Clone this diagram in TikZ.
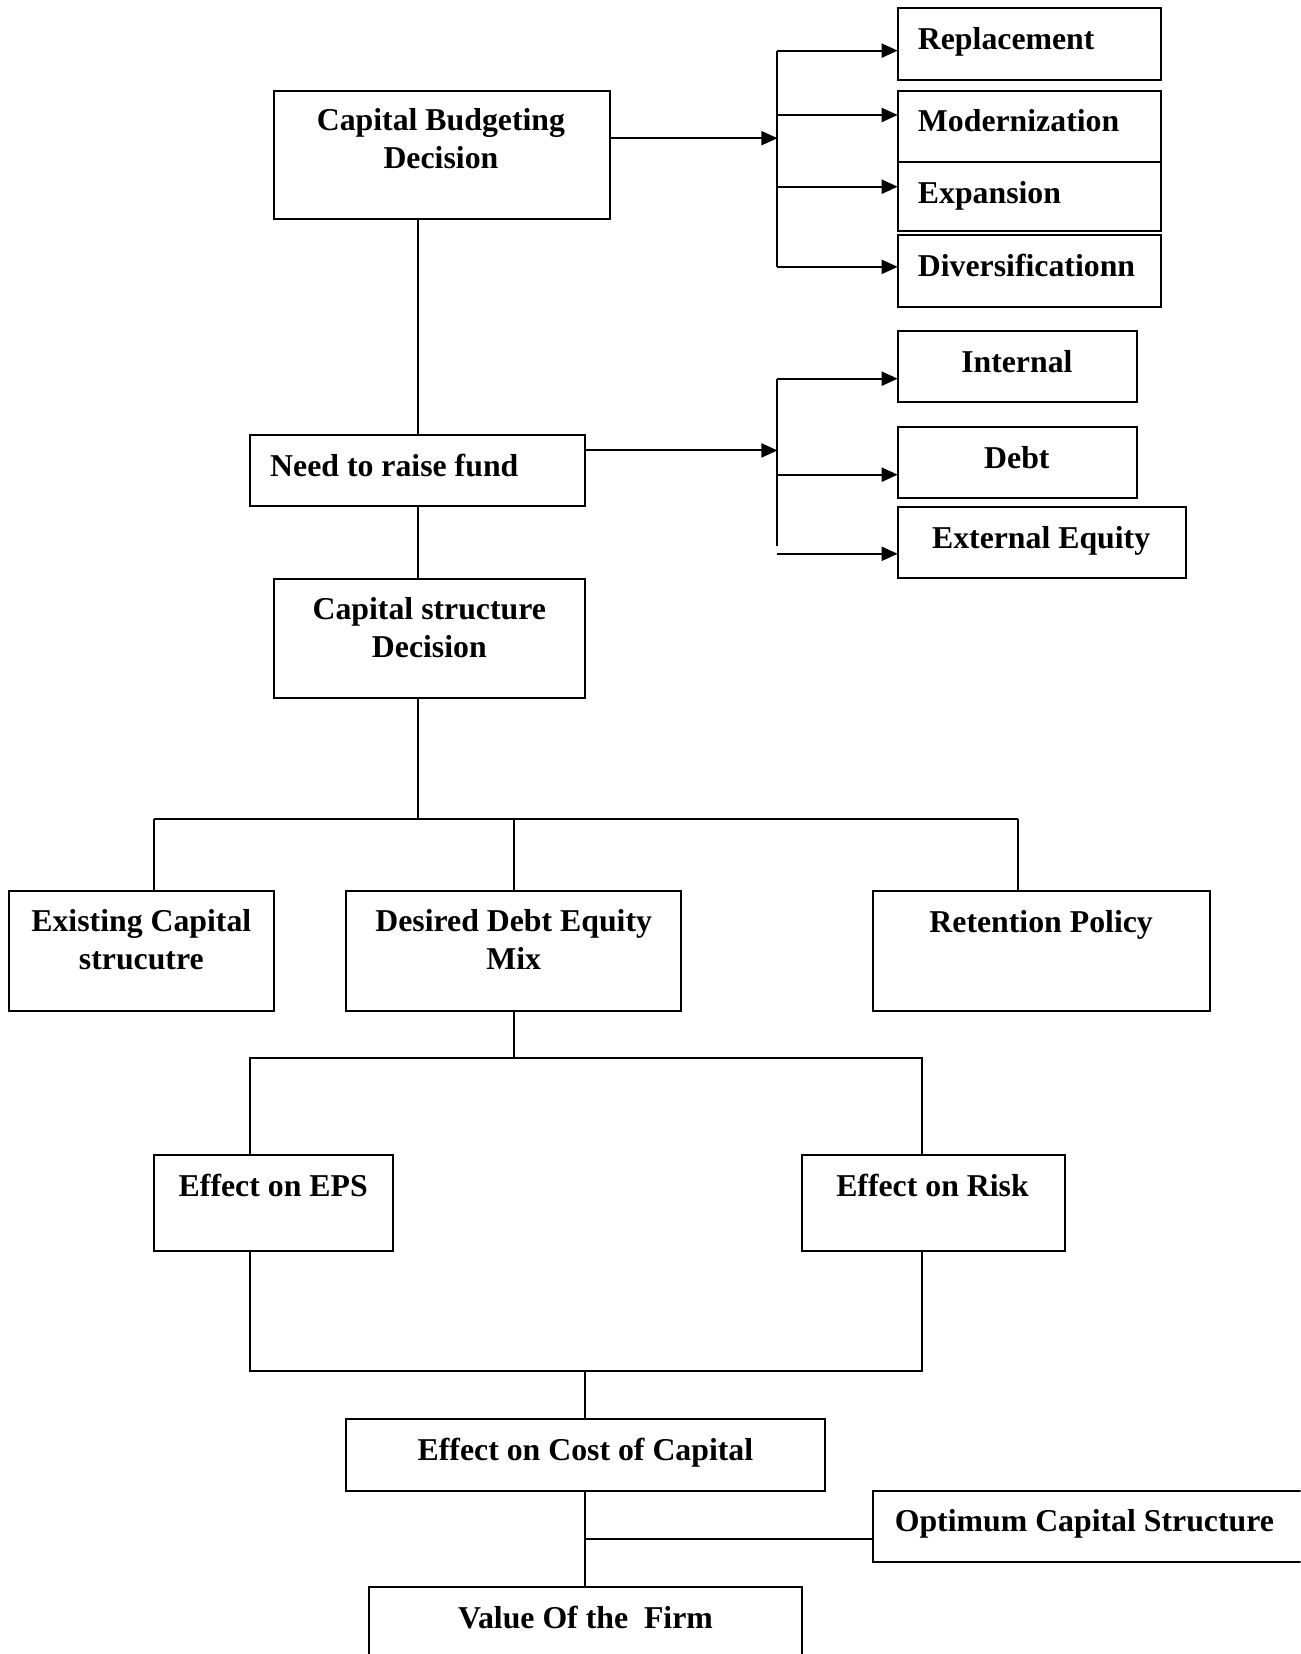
\documentclass[tikz,border=0pt]{standalone}
\usepackage{fontspec}
\setmainfont{Liberation Serif}
\usetikzlibrary{arrows.meta}
\newcommand\bx[5]{\node[box, minimum width={(#4-#2)*1.0552pt}, minimum height={(#5-#3)*1.0552pt}] (#1) at ({(#2+#4)/2},{(#3+#5)/2}) {};}
\begin{document}
\begin{tikzpicture}[x=1.0552pt, y=-1.0552pt,
  box/.style={draw, line width=2pt, inner sep=0pt, outer sep=0pt},
  txt/.style={inner sep=0pt, align=center, font=\fontsize{31.8}{38}\selectfont\bfseries},
  ln/.style={line width=2pt},
  arr/.style={line width=2pt, -{Triangle[length=16pt,width=14pt]}}]
\path[use as bounding box, fill=white] (0,0) rectangle (1233,1568);
\begin{scope}
\clip (0,0) rectangle (1233,1568);
% boxes
\bx{cbd}{260}{86}{578}{208}
\bx{rep}{851}{8}{1101}{76}
\bx{mod}{851}{86}{1101}{154}
\bx{exp}{851}{154}{1101}{219}
\bx{div}{851}{223}{1101}{291}
\bx{need}{237}{412}{555}{480}
\bx{int}{851}{314}{1078}{381}
\bx{debt}{851}{405}{1078}{472}
\bx{ee}{851}{481}{1124}{548}
\bx{csd}{260}{549}{555}{662}
\bx{ecs}{9}{845}{260}{958}
\bx{dde}{328}{845}{646}{958}
\bx{ret}{828}{845}{1147}{958}
\bx{eps}{146}{1095}{373}{1186}
\bx{risk}{760}{1095}{1010}{1186}
\bx{coc}{328}{1345}{782}{1413}
\bx{ocs}{828}{1413}{1260}{1481}
\bx{vof}{350}{1504}{760}{1600}
\end{scope}
% texts
\node[txt, anchor=north] (cbdT) at (418,103) {Capital Budgeting\\Decision};
\node[txt, anchor=north west] (repT) at (870,26) {Replacement};
\node[txt, anchor=north west] (modT) at (870,104) {Modernization};
\node[txt, anchor=north west] (expT) at (870,172) {Expansion};
\node[txt, anchor=north west] (divT) at (870,241) {Diversificationn};
\node[txt, anchor=north west] (needT) at (256,430) {Need to raise fund};
\node[txt, anchor=north] (intT) at (964,332) {Internal};
\node[txt, anchor=north] (debtT) at (964,423) {Debt};
\node[txt, anchor=north] (eeT) at (987,499) {External Equity};
\node[txt, anchor=north] (csdT) at (407,566) {Capital structure\\Decision};
\node[txt, anchor=north] (ecsT) at (134,862) {Existing Capital\\strucutre};
\node[txt, anchor=north] (ddeT) at (487,862) {Desired Debt Equity\\Mix};
\node[txt, anchor=north] (retT) at (987,863) {Retention Policy};
\node[txt, anchor=north] (epsT) at (259,1113) {Effect on EPS};
\node[txt, anchor=north] (riskT) at (884,1113) {Effect on Risk};
\node[txt, anchor=north] (cocT) at (555,1363) {Effect on Cost of Capital};
\node[txt, anchor=north] (ocsT) at (1028,1431) {Optimum Capital Structure};
\node[txt, anchor=north] (vofT) at (555,1522) {Value Of the~~Firm};
% top fan-out
\coordinate (ta) at (737,48);
\coordinate (tb) at (737,109);
\coordinate (tin) at (737,131);
\coordinate (tc) at (737,177);
\coordinate (td) at (737,253);
\draw[arr] (cbd.east |- tin) -- (tin);
\draw[ln] (ta) -- (td);
\draw[arr] (ta) -- (rep.west |- ta);
\draw[arr] (tb) -- (mod.west |- tb);
\draw[arr] (tc) -- (exp.west |- tc);
\draw[arr] (td) -- (div.west |- td);
% funds fan-out
\coordinate (fa) at (737,359);
\coordinate (fin) at (737,427);
\coordinate (fb) at (737,450);
\coordinate (fend) at (737,518);
\coordinate (fc) at (737,525);
\draw[arr] (need.east |- fin) -- (fin);
\draw[ln] (fa) -- (fend);
\draw[arr] (fa) -- (int.west |- fa);
\draw[arr] (fb) -- (debt.west |- fb);
\draw[arr] (fc) -- (ee.west |- fc);
% main trunk
\draw[ln] (need.north) -- (need.north |- cbd.south);
\draw[ln] (need.south) -- (need.south |- csd.north);
\coordinate (j1) at (396,776);
\coordinate (h1) at (146,776);
\coordinate (h3) at (965,776);
\draw[ln] (csd.south -| j1) -- (j1);
\draw[ln] (h1) -- (h3);
\draw[ln] (h1) -- (h1 |- ecs.north);
\draw[ln] (dde.north) -- (dde.north |- h1);
\draw[ln] (h3) -- (h3 |- ret.north);
\coordinate (h4) at (237,1003);
\coordinate (h5) at (874,1003);
\draw[ln] (dde.south) -- (dde.south |- h4);
\draw[ln] (h4 |- eps.north) -- (h4) -- (h5) -- (h5 |- risk.north);
\coordinate (b4) at (237,1300);
\coordinate (b5) at (874,1300);
\draw[ln] (b4 |- eps.south) -- (b4) -- (b5) -- (b5 |- risk.south);
\draw[ln] (coc.north) -- (coc.north |- b4);
\draw[ln] (coc.south) -- (vof.north);
\coordinate (j9) at (555,1459);
\draw[ln] (j9) -- (ocs.west |- j9);
\end{tikzpicture}
\end{document}
